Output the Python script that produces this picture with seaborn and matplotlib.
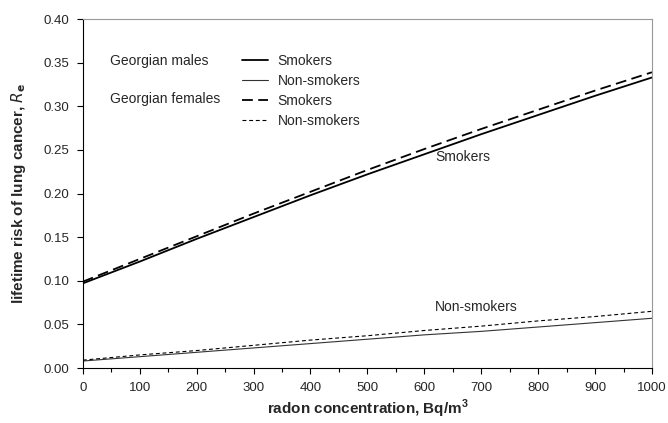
import numpy as np
import pandas as pd
import matplotlib
matplotlib.use("Agg")
import matplotlib.pyplot as plt
from matplotlib.lines import Line2D
from matplotlib.ticker import MultipleLocator
import seaborn as sns

# radon concentration, Bq/m3
radon = [0, 100, 200, 300, 400, 500, 600, 700, 800, 900, 1000]

# lifetime risk
male_smokers = [0.097, 0.122, 0.148, 0.173, 0.198, 0.222, 0.245, 0.268, 0.290, 0.312, 0.333]
male_nonsmokers = [0.008, 0.013, 0.018, 0.023, 0.028, 0.033, 0.038, 0.042, 0.047, 0.052, 0.057]
female_smokers = [0.099, 0.125, 0.151, 0.177, 0.202, 0.227, 0.251, 0.274, 0.296, 0.318, 0.339]
female_nonsmokers = [0.009, 0.015, 0.020, 0.026, 0.032, 0.037, 0.043, 0.048, 0.054, 0.059, 0.065]

sns.set_theme(style="ticks")
plt.rcParams["font.family"] = ["Liberation Sans", "DejaVu Sans"]

fig = plt.figure(figsize=(6.68, 4.23), dpi=100)
ax = fig.add_axes([0.124, 0.130, 0.852, 0.825])

styles = [
    (male_smokers, "black", 1.3, "-"),
    (male_nonsmokers, "#333333", 0.8, "-"),
    (female_smokers, "black", 1.3, (0, (6, 3))),
    (female_nonsmokers, "black", 0.8, (0, (3.5, 2.5))),
]
for vals, col, lw, ls in styles:
    sns.lineplot(x=radon, y=vals, ax=ax, color=col, linewidth=lw, linestyle=ls)

ax.set_xlim(0, 1000)
ax.set_ylim(0, 0.40)
ax.xaxis.set_major_locator(MultipleLocator(100))
ax.xaxis.set_minor_locator(MultipleLocator(50))
ax.yaxis.set_major_locator(MultipleLocator(0.05))
ax.yaxis.set_major_formatter(matplotlib.ticker.FormatStrFormatter("%.2f"))
ax.tick_params(axis="both", which="both", direction="out", labelsize=9.5,
               color="black", length=4, width=0.8, pad=6)
ax.tick_params(axis="x", which="minor", length=3)
for side in ["left", "bottom"]:
    ax.spines[side].set_color("black")
    ax.spines[side].set_linewidth(0.8)
for side in ["top", "right"]:
    ax.spines[side].set_visible(True)
    ax.spines[side].set_color("#999999")
    ax.spines[side].set_linewidth(0.8)

ax.set_xlabel("radon concentration, Bq/m$^\\mathregular{3}$", fontsize=11, fontweight="bold", labelpad=3)
ax.set_ylabel("lifetime risk of lung cancer, $\\mathbf{\\mathit{R}_e}$", fontsize=11, fontweight="bold", labelpad=11)

handles = [
    Line2D([], [], color="black", lw=1.3, ls="-"),
    Line2D([], [], color="#333333", lw=0.8, ls="-"),
    Line2D([], [], color="black", lw=1.3, ls=(0, (6, 3))),
    Line2D([], [], color="black", lw=0.8, ls=(0, (3.5, 2.5))),
]
labels = ["Smokers", "Non-smokers", "Smokers", "Non-smokers"]
ax.legend(handles, labels, loc="upper left", bbox_to_anchor=(0.27, 0.915), frameon=False,
          fontsize=10, handlelength=1.9, handletextpad=0.65, labelspacing=0.42,
          borderaxespad=0)

ax.text(0.047, 0.881, "Georgian males", transform=ax.transAxes, fontsize=10, va="center")
ax.text(0.047, 0.770, "Georgian females", transform=ax.transAxes, fontsize=10, va="center")
ax.text(668, 0.242, "Smokers", fontsize=10, va="center", ha="center")
ax.text(692, 0.070, "Non-smokers", fontsize=10, va="center", ha="center")

fig.savefig("out.png", dpi=100)
